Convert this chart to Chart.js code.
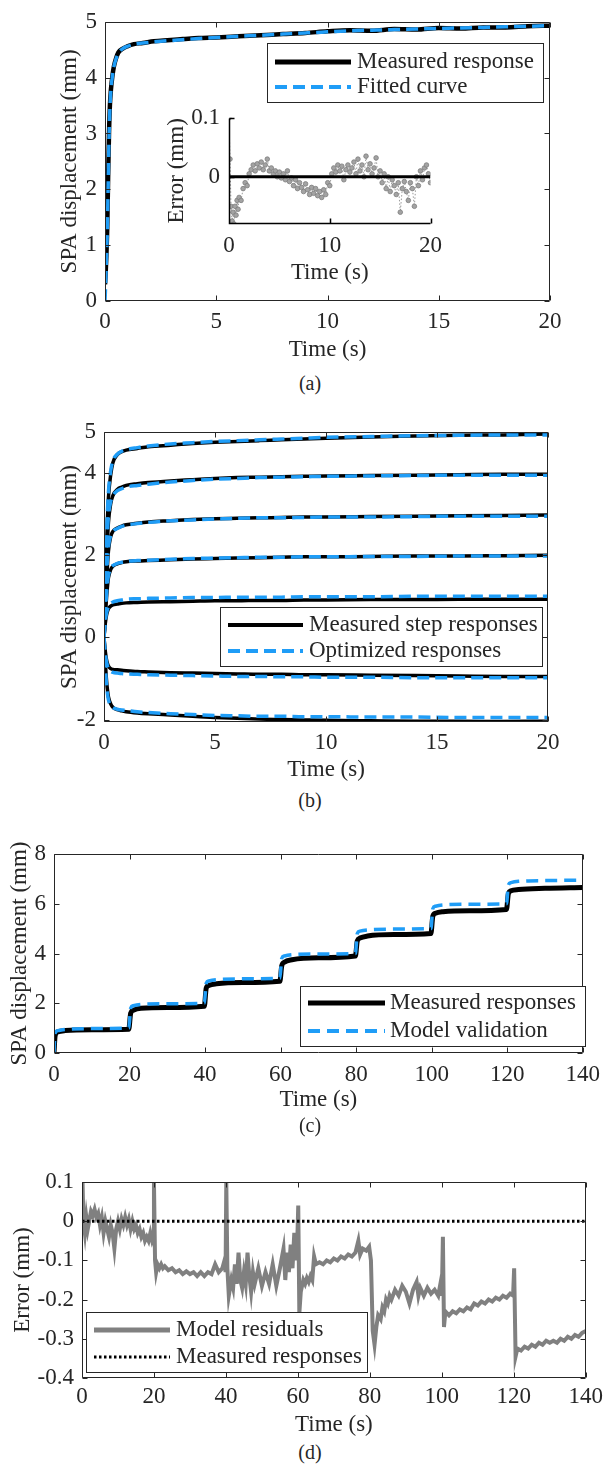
<!DOCTYPE html>
<html>
<head>
<meta charset="utf-8">
<script src="https://cdn.jsdelivr.net/npm/chart.js@4.4.1/dist/chart.umd.min.js"></script>
<style>
  body { margin: 0; background: #fff; }
  #page { position: relative; width: 608px; height: 1470px; overflow: hidden; }
  canvas { position: absolute; left: 0; }
  .cap { position: absolute; left: 270px; width: 80px; text-align: center; font: 20px 'Liberation Serif', serif; color: #262626; line-height: 20px; }
</style>
</head>
<body>
<div id="page">
  <canvas id="panelA" width="608" height="372" style="top:0px"></canvas>
  <canvas id="insetA" width="300" height="192" style="left:150px;top:95px"></canvas>
  <div class="cap" style="top:373px">(a)</div>
  <canvas id="panelB" width="608" height="385" style="top:400px"></canvas>
  <div class="cap" style="top:790px">(b)</div>
  <canvas id="panelC" width="608" height="285" style="top:830px"></canvas>
  <div class="cap" style="top:1115px">(c)</div>
  <canvas id="panelD" width="608" height="280" style="top:1160px"></canvas>
  <div class="cap" style="top:1442px">(d)</div>
</div>
<script>
// ---- (a) single step response and fit
const aTime = [0, 0.03, 0.06, 0.1, 0.14, 0.18, 0.22, 0.27, 0.33, 0.4,
  0.5, 0.6, 0.8, 1, 1.3, 1.7, 2.2, 2.8, 3.5, 4.2,
  5, 6, 7, 8, 9, 10, 11, 12, 13, 14,
  15, 16, 17, 18, 19, 20];
const aMeasured = [0.3, 0.5, 0.8, 1.3, 2.2, 3.0, 3.5, 3.8, 4.02, 4.2,
  4.35, 4.45, 4.52, 4.56, 4.6, 4.62, 4.65, 4.67, 4.69, 4.71,
  4.72, 4.74, 4.76, 4.78, 4.8, 4.83, 4.85, 4.84, 4.87, 4.86,
  4.89, 4.88, 4.9, 4.9, 4.92, 4.93];
const aFitted = [0, 0.3, 0.7, 1.2, 2.0, 2.9, 3.45, 3.8, 4.02, 4.2,
  4.34, 4.44, 4.52, 4.56, 4.6, 4.62, 4.64, 4.66, 4.68, 4.7,
  4.72, 4.74, 4.76, 4.78, 4.8, 4.82, 4.84, 4.85, 4.86, 4.87,
  4.88, 4.89, 4.9, 4.91, 4.92, 4.93];

// inset: fit error
const errTime = [0, 0.1, 0.2, 0.3, 0.4, 0.5, 0.6, 0.7, 0.8, 0.9,
  1.0, 1.2, 1.4, 1.6, 1.8, 2.0, 2.2, 2.4, 2.6, 2.8,
  3.0, 3.2, 3.4, 3.6, 3.8, 4.0, 4.2, 4.4, 4.6, 4.8,
  5.0, 5.2, 5.4, 5.6, 5.8, 6.0, 6.2, 6.4, 6.6, 6.8,
  7.0, 7.2, 7.4, 7.6, 7.8, 8.0, 8.2, 8.4, 8.6, 8.8,
  9.0, 9.2, 9.4, 9.6, 9.8, 10.0, 10.2, 10.4, 10.6, 10.8,
  11.0, 11.2, 11.4, 11.6, 11.8, 12.0, 12.2, 12.4, 12.6, 12.8,
  13.0, 13.2, 13.4, 13.6, 13.8, 14.0, 14.2, 14.4, 14.6, 14.8,
  15.0, 15.2, 15.4, 15.6, 15.8, 16.0, 16.2, 16.4, 16.6, 16.8,
  17.0, 17.2, 17.4, 17.6, 17.8, 18.0, 18.2, 18.4, 18.6, 18.8,
  19.0, 19.2, 19.4, 19.6, 19.8, 20.0];
const errValue = [0.1, 0.03, -0.05, -0.075, -0.06, -0.08, -0.05, -0.065, -0.04, -0.055,
  -0.035, -0.04, -0.02, -0.01, -0.015, 0.005, 0.012, 0.02, 0.01, 0.022,
  0.015, 0.025, 0.012, 0.02, 0.03, 0.01, 0.015, 0.005, 0.01, 0.0,
  0.008, -0.002, 0.005, -0.005, 0.01, -0.008, -0.002, -0.015, -0.005, -0.02,
  -0.01, -0.018, -0.025, -0.012, -0.022, -0.03, -0.018, -0.028, -0.02, -0.032,
  -0.025, -0.035, -0.022, -0.03, -0.01, -0.015, 0.005, 0.015, 0.008, 0.02,
  0.01, 0.018, -0.005, 0.012, 0.02, 0.008, 0.015, 0.025, 0.005, 0.03,
  0.01, 0.02, 0.0, 0.035, 0.012, 0.022, 0.005, 0.015, 0.032, 0.0,
  0.01, -0.01, 0.005, -0.02, 0.0, -0.025, -0.005, -0.015, -0.03, -0.01,
  -0.06, -0.02, -0.008, -0.025, -0.04, -0.01, -0.02, -0.05, 0.0, -0.015,
  0.01, -0.005, 0.015, 0.02, 0.005, -0.01];
const insetZeroTime = [0, 20];
const insetZero = [0, 0];

// ---- (b) seven step responses
const bTime = [0, 0.05, 0.1, 0.15, 0.2, 0.3, 0.4, 0.6, 0.8, 1,
  1.5, 2, 3, 4, 5, 6, 7, 8, 9, 10, 12, 14, 16, 18, 20];
const bMeasured = [
  [0, 0.9, 1.9, 2.8, 3.4, 3.95, 4.25, 4.45, 4.52, 4.56, 4.6, 4.64, 4.68, 4.72, 4.75, 4.77, 4.79, 4.81, 4.83, 4.85, 4.88, 4.9, 4.92, 4.93, 4.95],
  [0, 0.8, 1.6, 2.3, 2.8, 3.25, 3.45, 3.6, 3.66, 3.7, 3.74, 3.77, 3.81, 3.84, 3.87, 3.89, 3.9, 3.91, 3.92, 3.93, 3.94, 3.95, 3.96, 3.97, 3.97],
  [0, 0.6, 1.2, 1.7, 2.1, 2.45, 2.58, 2.66, 2.71, 2.74, 2.78, 2.81, 2.84, 2.87, 2.89, 2.9, 2.91, 2.92, 2.93, 2.93, 2.94, 2.95, 2.96, 2.97, 2.98],
  [0, 0.4, 0.85, 1.2, 1.45, 1.65, 1.73, 1.79, 1.82, 1.84, 1.86, 1.87, 1.89, 1.91, 1.92, 1.93, 1.94, 1.95, 1.96, 1.96, 1.97, 1.98, 1.98, 1.99, 2.0],
  [0, 0.3, 0.5, 0.62, 0.7, 0.76, 0.79, 0.81, 0.83, 0.84, 0.85, 0.86, 0.87, 0.88, 0.89, 0.89, 0.9, 0.9, 0.91, 0.91, 0.92, 0.92, 0.93, 0.93, 0.93],
  [0, -0.3, -0.5, -0.62, -0.7, -0.76, -0.78, -0.79, -0.8, -0.81, -0.83, -0.84, -0.86, -0.87, -0.88, -0.89, -0.9, -0.9, -0.91, -0.91, -0.92, -0.93, -0.94, -0.95, -0.95],
  [0, -0.5, -0.95, -1.25, -1.45, -1.62, -1.7, -1.76, -1.79, -1.81, -1.84, -1.86, -1.89, -1.92, -1.95, -1.97, -1.99, -2.0, -2.01, -2.02, -2.03, -2.04, -2.04, -2.05, -2.04]
];
const bOptimized = [
  [0, 1.1, 2.2, 3.0, 3.55, 4.05, 4.3, 4.46, 4.53, 4.57, 4.62, 4.66, 4.71, 4.74, 4.77, 4.79, 4.81, 4.83, 4.85, 4.87, 4.89, 4.91, 4.92, 4.93, 4.93],
  [0, 0.9, 1.8, 2.5, 2.95, 3.3, 3.45, 3.57, 3.62, 3.66, 3.7, 3.73, 3.78, 3.82, 3.85, 3.87, 3.89, 3.9, 3.91, 3.92, 3.93, 3.94, 3.95, 3.95, 3.95],
  [0, 0.7, 1.35, 1.85, 2.2, 2.48, 2.58, 2.65, 2.7, 2.73, 2.77, 2.8, 2.84, 2.86, 2.88, 2.9, 2.91, 2.91, 2.92, 2.93, 2.93, 2.94, 2.95, 2.95, 2.95],
  [0, 0.5, 0.95, 1.3, 1.5, 1.68, 1.75, 1.8, 1.83, 1.85, 1.87, 1.88, 1.9, 1.92, 1.93, 1.94, 1.95, 1.95, 1.96, 1.96, 1.97, 1.97, 1.98, 1.98, 1.98],
  [0, 0.35, 0.55, 0.67, 0.75, 0.82, 0.86, 0.89, 0.91, 0.93, 0.94, 0.95, 0.96, 0.97, 0.97, 0.98, 0.98, 0.98, 0.99, 0.99, 0.99, 1.0, 1.0, 1.0, 1.0],
  [0, -0.35, -0.55, -0.68, -0.76, -0.82, -0.85, -0.87, -0.88, -0.89, -0.9, -0.91, -0.92, -0.93, -0.94, -0.95, -0.95, -0.96, -0.96, -0.97, -0.97, -0.98, -0.98, -0.98, -0.98],
  [0, -0.6, -1.05, -1.35, -1.52, -1.66, -1.71, -1.75, -1.77, -1.78, -1.81, -1.83, -1.86, -1.88, -1.9, -1.91, -1.92, -1.92, -1.93, -1.93, -1.94, -1.94, -1.95, -1.95, -1.95]
];
const bYTicks = [-2, 0, 2, 4, 5];

// ---- (c) staircase validation
const cTime = [0, 0.3, 1, 3, 10, 19.8, 20.3, 21, 23, 30, 39.8, 40.3, 41, 43, 50, 59.8,
  60.3, 61, 63, 70, 79.8, 80.3, 81, 83, 90, 99.8, 100.3, 101, 103, 110, 119.8,
  120.3, 121, 123, 130, 140];
const cMeasured = [0, 0.7, 0.85, 0.9, 0.93, 0.95, 1.6, 1.72, 1.8, 1.83, 1.88, 2.6, 2.72, 2.78, 2.83, 2.88,
  3.5, 3.65, 3.75, 3.83, 3.9, 4.5, 4.62, 4.7, 4.76, 4.8, 5.5, 5.62, 5.68, 5.72, 5.77,
  6.4, 6.52, 6.57, 6.62, 6.65];
const cModel = [0, 0.8, 0.9, 0.95, 0.98, 1.0, 1.8, 1.9, 1.95, 1.98, 2.0, 2.8, 2.9, 2.95, 2.98, 3.0,
  3.8, 3.9, 3.95, 3.98, 4.0, 4.8, 4.9, 4.95, 4.98, 5.0, 5.8, 5.9, 5.95, 5.98, 6.0,
  6.75, 6.85, 6.9, 6.93, 6.95];

// ---- (d) residuals
const dTime = [
  0, 0.15, 0.4, 0.8, 1.2, 1.6, 2.0, 2.5, 3.0, 3.5, 4.0, 4.5, 5.0, 5.5, 6.0, 6.5, 7.0, 7.5, 8.0, 8.5,
  9.0, 9.5, 10.0, 10.5, 11.0, 11.5, 12.0, 12.5, 13.0, 13.5, 14.0, 14.5, 15.0, 15.5, 16.0, 16.5, 17.0, 17.5, 18.0, 18.5,
  19.0, 19.5, 19.9,
  20.0, 20.3, 20.6, 21, 21.5, 22, 22.5, 23, 24, 25, 26, 27, 28, 29, 30, 31, 32, 33, 34, 35, 36, 37, 38, 39, 39.6, 39.9,
  40.1, 40.4, 40.8, 41.5, 42, 42.5, 43, 43.5, 44, 44.5, 45, 45.5, 46, 46.5, 47, 47.5, 48, 49, 50, 51, 52, 53, 54, 55,
  56, 56.5, 57, 57.5, 58, 58.5, 59, 59.5, 59.8,
  60.1, 60.4, 60.8, 61.5, 62, 62.5, 63, 63.5, 64, 64.5, 65, 66, 67, 68, 69, 70, 71, 72, 73, 74, 75, 76, 76.8, 77.3,
  78, 79, 79.8,
  80.3, 80.8, 81.3, 81.8, 82.3, 83, 83.5, 84, 84.5, 85, 85.5, 86, 87, 88, 89, 90, 91, 92, 93, 93.5, 94, 95, 96, 97,
  98, 99, 99.6, 100,
  100.3, 100.6, 101, 102, 103, 104, 105, 106, 107, 108, 109, 110, 111, 112, 113, 114, 115, 116, 117, 118, 119, 119.8,
  120.1, 120.5, 121, 122, 123, 124, 125, 126, 127, 128, 129, 130, 131, 132, 133, 134, 135, 136, 137, 138, 139, 140
];
const dResidual = [
  0.0, 0.1, 0.0, -0.03, 0.01, -0.02, 0.0, 0.025, 0.015, 0.03, 0.01, 0.02, -0.01, 0.01, -0.03, 0.0, -0.02, -0.04, -0.01, -0.03,
  -0.07, -0.02, 0.0, -0.02, 0.005, -0.01, 0.01, -0.01, 0.005, -0.02, 0.0, -0.02, -0.01, -0.03, -0.02, -0.04, -0.03, -0.05, -0.04, -0.05,
  -0.03, -0.05, -0.04,
  0.1, -0.1, -0.13, -0.11, -0.12, -0.11, -0.12, -0.115, -0.125, -0.12, -0.13, -0.125, -0.135, -0.128, -0.135, -0.13, -0.14, -0.13, -0.14, -0.13, -0.135, -0.11, -0.13, -0.12, -0.1, -0.13,
  0.1, -0.12, -0.19, -0.15, -0.17, -0.11, -0.16, -0.08, -0.15, -0.17, -0.13, -0.16, -0.08, -0.14, -0.18, -0.13, -0.16, -0.12, -0.165, -0.13, -0.16, -0.11, -0.165, -0.12,
  -0.07, -0.15, -0.08, -0.13, -0.06, -0.12, -0.03, -0.1, -0.06,
  0.04, -0.235, -0.18, -0.15, -0.16, -0.145, -0.155, -0.14, -0.15, -0.09, -0.11, -0.105, -0.11, -0.1, -0.105, -0.095, -0.1, -0.09, -0.095, -0.085, -0.09, -0.08, -0.05, -0.085,
  -0.07, -0.075, -0.065,
  -0.1, -0.28, -0.315, -0.27, -0.24, -0.25, -0.22, -0.23, -0.2, -0.21, -0.19, -0.2, -0.175, -0.19, -0.165, -0.18, -0.21, -0.175, -0.155, -0.19, -0.17, -0.19, -0.17, -0.185,
  -0.175, -0.19, -0.16, -0.19,
  -0.04, -0.27, -0.23, -0.24, -0.23, -0.235, -0.225, -0.23, -0.22, -0.225, -0.21, -0.215, -0.205, -0.21, -0.2, -0.205, -0.195, -0.2, -0.19, -0.195, -0.185, -0.19,
  -0.12, -0.345, -0.325, -0.33, -0.32, -0.325, -0.315, -0.32, -0.31, -0.315, -0.305, -0.31, -0.305, -0.31, -0.3, -0.305, -0.295, -0.3, -0.29, -0.295, -0.285, -0.28
];
const dZeroTime = [0, 140];
const dZero = [0, 0];
const dYTicks = [-0.4, -0.3, -0.2, -0.1, 0, 0.1];

const FONT = "'Liberation Serif', 'Times New Roman', serif";
const FONT_SIZE = 23;
const INK = '#262626';
const BLUE = '#1f9df7';
const GREY = '#808080';

function xy(xs, ys) {
  return xs.map((x, i) => ({ x: x, y: ys[i] }));
}

// box round the axes with inward ticks, as in the original figure
function framePlugin(boxed, width, tickLen) {
  return {
    id: 'frame',
    afterDatasetsDraw(chart) {
      const { ctx, chartArea: a, scales: { x, y } } = chart;
      const L = Math.round(a.left) + 0.5, R = Math.round(a.right) - 0.5;
      const T = Math.round(a.top) + 0.5, B = Math.round(a.bottom) - 0.5;
      ctx.save();
      ctx.strokeStyle = boxed ? INK : '#000';
      ctx.lineWidth = width;
      ctx.beginPath();
      if (boxed) {
        ctx.rect(L, T, R - L, B - T);
      } else {
        ctx.moveTo(L, T); ctx.lineTo(L, B); ctx.lineTo(R, B);
      }
      x.ticks.forEach(t => {
        const px = Math.round(x.getPixelForValue(t.value)) + 0.5;
        ctx.moveTo(px, B); ctx.lineTo(px, B - tickLen);
        if (boxed) { ctx.moveTo(px, T); ctx.lineTo(px, T + tickLen); }
      });
      y.ticks.forEach(t => {
        const py = Math.round(y.getPixelForValue(t.value)) + 0.5;
        ctx.moveTo(L, py); ctx.lineTo(L + tickLen, py);
        if (boxed) { ctx.moveTo(R, py); ctx.lineTo(R - tickLen, py); }
      });
      ctx.stroke();
      ctx.restore();
    }
  };
}

// legend box drawn inside the axes
function legendPlugin(lg) {
  return {
    id: 'boxLegend',
    afterDraw(chart) {
      if (!lg) return;
      const ctx = chart.ctx;
      const [l, t, r, b] = lg.box;
      ctx.save();
      ctx.fillStyle = '#fff';
      ctx.fillRect(l, t, r - l, b - t);
      ctx.strokeStyle = INK;
      ctx.lineWidth = 1;
      ctx.strokeRect(Math.round(l) + 0.5, Math.round(t) + 0.5, Math.round(r - l), Math.round(b - t));
      ctx.font = FONT_SIZE + 'px ' + FONT;
      ctx.textBaseline = 'middle';
      lg.items.forEach((idx, i) => {
        const ds = chart.data.datasets[idx];
        const yy = lg.rows[i];
        ctx.beginPath();
        ctx.strokeStyle = ds.borderColor;
        ctx.lineWidth = lg.widths ? lg.widths[i] : ds.borderWidth;
        ctx.setLineDash(ds.borderDash || []);
        ctx.moveTo(lg.sample[0], yy);
        ctx.lineTo(lg.sample[1], yy);
        ctx.stroke();
        ctx.setLineDash([]);
        ctx.fillStyle = INK;
        ctx.fillText(ds.label, lg.textX, yy);
      });
      ctx.restore();
    }
  };
}

function makePanel(id, g, datasets, legend) {
  const lh = FONT_SIZE * 1.2;
  const font = { family: FONT, size: FONT_SIZE, lineHeight: 1.2 };
  return new Chart(document.getElementById(id), {
    type: 'line',
    data: { datasets: datasets },
    options: {
      responsive: false,
      animation: false,
      devicePixelRatio: 1,
      layout: { padding: { left: 0, top: g.area[1], right: g.w - g.area[2], bottom: 0 } },
      plugins: { legend: { display: false }, tooltip: { enabled: false } },
      elements: { point: { radius: 0 } },
      scales: {
        x: {
          type: 'linear',
          min: g.xRange[0],
          max: g.xRange[1],
          afterBuildTicks: s => { s.ticks = g.xTicks.map(v => ({ value: v })); },
          afterFit: s => { s.height = g.h - g.area[3]; },
          grid: { display: false, drawTicks: false },
          border: { display: false },
          ticks: { padding: g.xPad, font: font, color: INK, maxRotation: 0, autoSkip: false, callback: v => String(v) },
          title: { display: true, text: 'Time (s)', font: font, color: INK,
                   padding: { top: 0, bottom: g.h - g.xTitleY - lh / 2 } }
        },
        y: {
          type: 'linear',
          min: g.yRange[0],
          max: g.yRange[1],
          afterBuildTicks: s => { s.ticks = g.yTicks.map(v => ({ value: v })); },
          afterFit: s => { s.width = g.area[0]; },
          grid: { display: false, drawTicks: false },
          border: { display: false },
          ticks: { padding: g.yPad, font: font, color: INK, autoSkip: false, callback: v => String(v) },
          title: { display: true, text: g.yTitle, font: font, color: INK,
                   padding: { top: g.yTitleX - lh / 2, bottom: 0 } }
        }
      }
    },
    plugins: [framePlugin(g.boxed !== false, g.frameWidth || 1, 5), legendPlugin(legend)]
  });
}

// (a)  -- lower "order" is drawn on top
makePanel('panelA', {
  w: 608, h: 372, area: [105, 15, 550, 301],
  xRange: [0, 20], xTicks: [0, 5, 10, 15, 20],
  yRange: [0, 5], yTicks: [0, 1, 2, 3, 4, 5],
  xTitleY: 350, yTitleX: 70, xPad: 7, yPad: 8,
  yTitle: 'SPA displacement (mm)'
}, [
  { label: 'Measured response', data: xy(aTime, aMeasured), borderColor: '#000', borderWidth: 4.5,
    cubicInterpolationMode: 'monotone', order: 2 },
  { label: 'Fitted curve', data: xy(aTime, aFitted), borderColor: BLUE, borderWidth: 3.5,
    borderDash: [12, 6], cubicInterpolationMode: 'monotone', order: 1 }
], { items: [0, 1], box: [267, 43, 543, 102], sample: [275, 351], textX: 357, rows: [62, 87], widths: [5, 4] });

// (a) inset
makePanel('insetA', {
  w: 300, h: 192, area: [79, 22, 288, 129],
  xRange: [0, 20], xTicks: [0, 10, 20],
  yRange: [-0.08, 0.1], yTicks: [0, 0.1],
  xTitleY: 178, yTitleX: 27, xPad: 8, yPad: 9,
  yTitle: 'Error (mm)', boxed: false, frameWidth: 1.5
}, [
  { label: 'Zero', data: xy(insetZeroTime, insetZero), borderColor: '#000', borderWidth: 3, order: 1 },
  { label: 'Error', data: xy(errTime, errValue), borderColor: '#9a9a9a', borderWidth: 1, borderDash: [1.5, 2],
    pointRadius: 2.3, pointBackgroundColor: '#a3a3a3', pointBorderColor: '#7d7d7d', pointBorderWidth: 0.8, order: 2 }
], null);

// (b)
const bSets = [];
bMeasured.forEach(row => bSets.push({
  label: 'Measured step responses', data: xy(bTime, row), borderColor: '#000', borderWidth: 3.5,
  cubicInterpolationMode: 'monotone', order: 2
}));
bOptimized.forEach(row => bSets.push({
  label: 'Optimized responses', data: xy(bTime, row), borderColor: BLUE, borderWidth: 3.5,
  borderDash: [12, 6], cubicInterpolationMode: 'monotone', order: 1
}));
makePanel('panelB', {
  w: 608, h: 385, area: [104, 32, 548, 322],
  xRange: [0, 20], xTicks: [0, 5, 10, 15, 20],
  yRange: [-2.06, 5], yTicks: bYTicks,
  xTitleY: 370, yTitleX: 70, xPad: 7, yPad: 8,
  yTitle: 'SPA displacement (mm)'
}, bSets, { items: [0, 7], box: [220, 207, 542, 266], sample: [228, 303], textX: 309, rows: [225, 251], widths: [4, 4] });

// (c)
makePanel('panelC', {
  w: 608, h: 285, area: [54, 24, 594, 223],
  xRange: [0, 140], xTicks: [0, 20, 40, 60, 80, 100, 120, 140],
  yRange: [0, 8], yTicks: [0, 2, 4, 6, 8],
  xTitleY: 270, yTitleX: 20, xPad: 8, yPad: 8,
  yTitle: 'SPA displacement (mm)'
}, [
  { label: 'Measured responses', data: xy(cTime, cMeasured), borderColor: '#000', borderWidth: 5,
    cubicInterpolationMode: 'monotone', order: 2 },
  { label: 'Model validation', data: xy(cTime, cModel), borderColor: BLUE, borderWidth: 3.5,
    borderDash: [12, 7], cubicInterpolationMode: 'monotone', order: 1 }
], { items: [0, 1], box: [300, 156, 585, 216], sample: [308, 385], textX: 390, rows: [173, 201], widths: [5, 4] });

// (d)
makePanel('panelD', {
  w: 608, h: 280, area: [82, 22, 592, 218],
  xRange: [0, 140], xTicks: [0, 20, 40, 60, 80, 100, 120, 140],
  yRange: [-0.4, 0.1], yTicks: dYTicks,
  xTitleY: 265, yTitleX: 23, xPad: 5, yPad: 8,
  yTitle: 'Error (mm)'
}, [
  { label: 'Model residuals', data: xy(dTime, dResidual), borderColor: GREY, borderWidth: 4, order: 2 },
  { label: 'Measured responses', data: xy(dZeroTime, dZero), borderColor: '#000', borderWidth: 3,
    borderDash: [2.5, 2.5], order: 1 }
], { items: [0, 1], box: [86, 152, 367, 212], sample: [94, 170], textX: 176, rows: [170, 197], widths: [5, 3] });
</script>
</body>
</html>
